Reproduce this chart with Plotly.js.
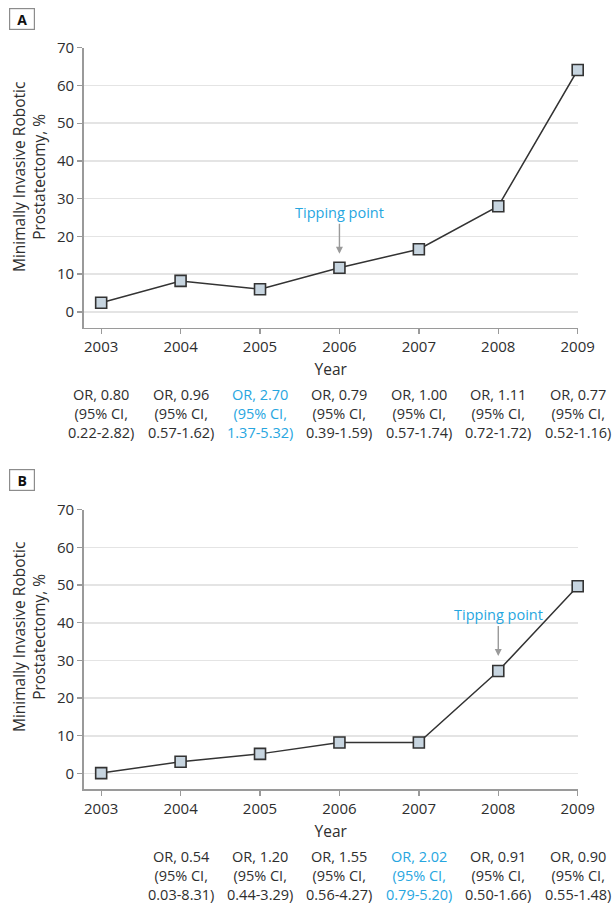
<!DOCTYPE html>
<html>
<head>
<meta charset="utf-8">
<script src="https://cdn.plot.ly/plotly-3.0.1.min.js"></script>
<style>
  html, body { margin: 0; padding: 0; background: #fff; }
  #chart { width: 614px; height: 908px; }
</style>
</head>
<body>
<div id="chart"></div>
<script>
// ---- Data ----
const years = [2003, 2004, 2005, 2006, 2007, 2008, 2009];
const valuesA = [2.4, 8.2, 6.0, 11.7, 16.6, 28.0, 64.1];
const valuesB = [0.1, 3.1, 5.2, 8.2, 8.2, 27.2, 49.7];

const orYearsA = [2003, 2004, 2005, 2006, 2007, 2008, 2009];
const orA = ['0.80', '0.96', '2.70', '0.79', '1.00', '1.11', '0.77'];
const ciA = ['0.22-2.82', '0.57-1.62', '1.37-5.32', '0.39-1.59', '0.57-1.74', '0.72-1.72', '0.52-1.16'];
const highlightA = 2005;
const tippingA = 2006;

const orYearsB = [2004, 2005, 2006, 2007, 2008, 2009];
const orB = ['0.54', '1.20', '1.55', '2.02', '0.91', '0.90'];
const ciB = ['0.03-8.31', '0.44-3.29', '0.56-4.27', '0.79-5.20', '0.50-1.66', '0.55-1.48'];
const highlightB = 2007;
const tippingB = 2008;

const yTickVals = [0, 10, 20, 30, 40, 50, 60, 70];
const panelLabels = ['A', 'B'];
const yTitle = 'Minimally Invasive Robotic<br>Prostatectomy, %';
const xTitle = 'Year';

// ---- Styles ----
const W = 614, H = 908;
const FONT = '"Open Sans", "Noto Sans", sans-serif';
const TXT = '#2e2e2e';
const BLUE = '#27a6df';
const GRID = '#e4e4e4';
const AXIS = '#9a9a9a';
const py = p => 1 - p / H;

const marker = { symbol: 'square', size: 11, color: '#c7d5e0', line: { color: '#333333', width: 1.6 } };
const line = { color: '#333333', width: 1.5 };

const traces = [
  { x: years, y: valuesA, xaxis: 'x', yaxis: 'y', mode: 'lines+markers', line, marker, hoverinfo: 'x+y', showlegend: false, cliponaxis: false },
  { x: years, y: valuesB, xaxis: 'x2', yaxis: 'y2', mode: 'lines+markers', line, marker, hoverinfo: 'x+y', showlegend: false, cliponaxis: false }
];

const xDom = [83.7 / W, 577.7 / W];
function xAx(anchor) {
  return {
    domain: xDom, anchor, range: [2002.78, 2009],
    tickmode: 'array', tickvals: years, ticktext: years.map(String),
    ticks: 'outside', ticklen: 5, tickwidth: 1.3, tickcolor: AXIS,
    showline: true, linecolor: AXIS, linewidth: 1.5,
    showgrid: false, zeroline: false,
    tickfont: { family: FONT, size: 15, color: TXT },
    title: { text: xTitle, font: { family: FONT, size: 15.5, color: TXT }, standoff: 9 },
    fixedrange: true
  };
}
function yAx(anchor, dom) {
  return {
    domain: dom, anchor, range: [-4.2, 70],
    tickmode: 'array', tickvals: yTickVals,
    ticks: 'outside', ticklen: 5, tickwidth: 1.3, tickcolor: AXIS,
    showline: true, linecolor: AXIS, linewidth: 1.5,
    showgrid: true, gridcolor: GRID, gridwidth: 1.5, zeroline: false,
    tickfont: { family: FONT, size: 15, color: TXT },
    fixedrange: true
  };
}

const annotations = [];

function orAnnots(xref, orYears, ors, cis, hl, centerY) {
  orYears.forEach((yr, i) => {
    const col = yr === hl ? BLUE : TXT;
    const txt = 'OR, ' + ors[i] + '<br>(95% CI,<br>' + cis[i] + ')';
    annotations.push({
      xref, yref: 'paper', x: yr, y: py(centerY), text: txt,
      showarrow: false, xanchor: 'center', yanchor: 'middle', align: 'center',
      borderpad: 0,
      font: { family: FONT, size: 14.5, color: col }
    });
  });
}
orAnnots('x', orYearsA, orA, ciA, highlightA, 413.5);
orAnnots('x2', orYearsB, orB, ciB, highlightB, 875);

function tipping(xref, yref, yr, vals, ay, standoff) {
  annotations.push({
    xref, yref, x: yr, y: vals[years.indexOf(yr)],
    text: 'Tipping point', showarrow: true, ax: 0, ay, standoff,
    arrowhead: 2, arrowsize: 1, arrowwidth: 1.4, arrowcolor: '#9a9a9a',
    font: { family: FONT, size: 14.5, color: BLUE }
  });
}
tipping('x', 'y', tippingA, valuesA, -55, 14);
tipping('x2', 'y2', tippingB, valuesB, -56, 15);

// y-axis titles
[[177], [637]].forEach(([c]) => {
  annotations.push({
    xref: 'paper', yref: 'paper', x: 29 / W, y: py(c), text: yTitle,
    textangle: -90, showarrow: false, xanchor: 'center', yanchor: 'middle',
    font: { family: FONT, size: 15.5, color: TXT }
  });
});

// panel labels
[[18.5], [479.5]].forEach(([c], i) => {
  annotations.push({
    xref: 'paper', yref: 'paper', x: 21.5 / W, y: py(c), text: '<b>' + panelLabels[i] + '</b>',
    showarrow: false, xanchor: 'center', yanchor: 'middle',
    width: 20, height: 16, borderpad: 2, bordercolor: '#8c8c8c', borderwidth: 1.2, bgcolor: '#ffffff',
    font: { family: FONT, size: 14, color: '#111111' }
  });
});

const layout = {
  width: W, height: H, autosize: false,
  margin: { l: 0, r: 0, t: 0, b: 0, pad: 0 },
  paper_bgcolor: '#ffffff', plot_bgcolor: '#ffffff',
  font: { family: FONT, color: TXT },
  xaxis: xAx('y'),
  yaxis: yAx('x', [1 - 327.7 / H, 1 - 47.7 / H]),
  xaxis2: xAx('y2'),
  yaxis2: yAx('x2', [1 - 789.3 / H, 1 - 509.7 / H]),
  annotations,
  showlegend: false
};

Plotly.newPlot('chart', traces, layout, { displayModeBar: false, staticPlot: true });
</script>
</body>
</html>
